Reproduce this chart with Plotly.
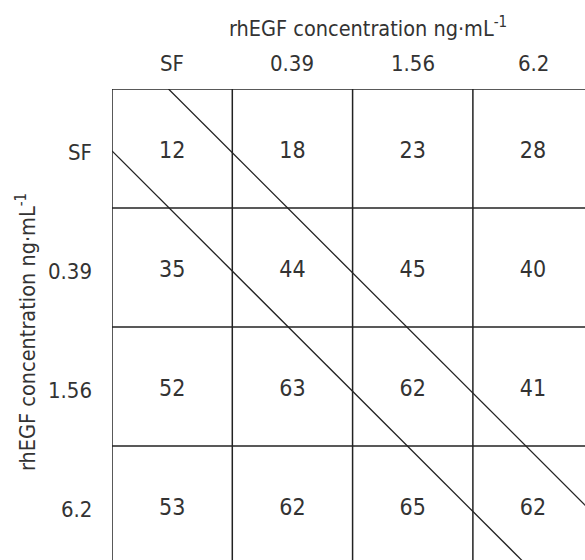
import plotly.graph_objects as go

# Concentration levels (SF = serum free) and the response values per cell
col_labels = ["SF", "0.39", "1.56", "6.2"]
row_labels = ["SF", "0.39", "1.56", "6.2"]
values = [
    [12, 18, 23, 28],
    [35, 44, 45, 40],
    [52, 63, 62, 41],
    [53, 62, 65, 62],
]
# Diagonal guide lines: (start x, start y) in cell units, slope in cell units
diagonals = [(0.47, 0.0), (0.0, 0.52)]
diag_slope = 1.01

FONT = "DejaVu Sans Condensed, Roboto Condensed, Liberation Sans Narrow, Roboto, sans-serif"
TXT = "#333333"
LINE = "#222222"

n_cols = len(col_labels)
n_rows = len(row_labels)
x_max = 3.932
y_max = 3.958
text_dy = 0.03  # small downward nudge so digits sit optically centred

# plot-area geometry in pixels (used to place the header/row labels)
W, H, L, T = 585, 560, 112, 89
pw, ph = W - L, H - T

fig = go.Figure()

# cell values
xs, ys, ts = [], [], []
for r in range(n_rows):
    for c in range(n_cols):
        xs.append(c + 0.5)
        ys.append(r + 0.5 + text_dy)
        ts.append(str(values[r][c]))
fig.add_trace(go.Scatter(
    x=xs, y=ys, text=ts, mode="text",
    textfont=dict(family=FONT, size=23, color=TXT),
    hoverinfo="skip", showlegend=False,
))

# diagonal lines
for x0, y0 in diagonals:
    x1 = x0 + 6
    y1 = y0 + 6 * diag_slope
    fig.add_trace(go.Scatter(
        x=[x0, x1], y=[y0, y1], mode="lines",
        line=dict(color=LINE, width=1.3),
        hoverinfo="skip", showlegend=False, cliponaxis=True,
    ))

# grid lines
shapes = []
for c in range(n_cols):
    shapes.append(dict(type="line", xref="x", yref="paper", x0=c, x1=c, y0=0, y1=1,
                       line=dict(color=LINE, width=1.5)))
for r in range(n_rows):
    shapes.append(dict(type="line", xref="paper", yref="y", x0=0, x1=1, y0=r, y1=r,
                       line=dict(color=LINE, width=1.5)))

annotations = []
# column headers
for c, lab in enumerate(col_labels):
    annotations.append(dict(
        text=lab, xref="x", yref="paper", x=c + 0.5, y=1 + (T - 63) / ph,
        xanchor="center", yanchor="middle", showarrow=False,
        font=dict(family=FONT, size=22, color=TXT)))
# row headers
for r, lab in enumerate(row_labels):
    annotations.append(dict(
        text=lab, xref="paper", yref="y", x=(94 - L) / pw, y=r + 0.5 + text_dy,
        xanchor="right", yanchor="middle", showarrow=False,
        font=dict(family=FONT, size=22, color=TXT)))
# axis titles
annotations.append(dict(
    text="rhEGF concentration ng·mL<sup>-1</sup>", xref="paper", yref="paper",
    x=(368 - L) / pw, y=1 + (T - 27) / ph, xanchor="center", yanchor="middle",
    showarrow=False, font=dict(family=FONT, size=21.5, color=TXT)))
annotations.append(dict(
    text="rhEGF concentration ng·mL<sup>-1</sup>", xref="paper", yref="paper",
    x=(26 - L) / pw, y=1 - (332 - T) / ph, xanchor="center", yanchor="middle",
    textangle=-90, showarrow=False, font=dict(family=FONT, size=21.5, color=TXT)))

fig.update_layout(
    width=W, height=H,
    margin=dict(l=L, r=0, t=T, b=0),
    paper_bgcolor="white", plot_bgcolor="white",
    shapes=shapes,
    annotations=annotations,
    font=dict(family=FONT, size=22, color=TXT),
    xaxis=dict(range=[0, x_max], side="top", showticklabels=False, ticks="",
               showgrid=False, zeroline=False, showline=False, fixedrange=True),
    yaxis=dict(range=[y_max, 0], showticklabels=False, ticks="",
               showgrid=False, zeroline=False, showline=False, fixedrange=True),
)

fig.write_html("out.html")
